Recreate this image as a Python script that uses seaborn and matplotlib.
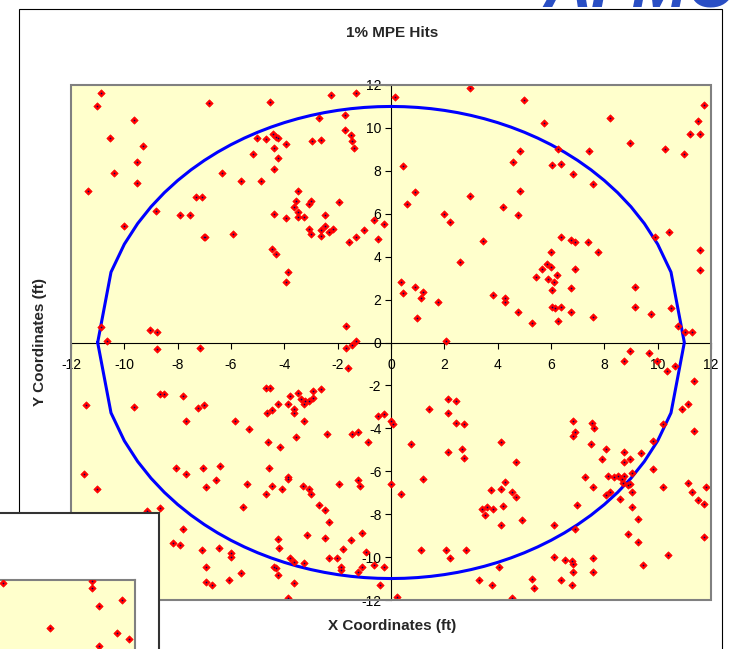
import numpy as np
import pandas as pd
import matplotlib
matplotlib.use('Agg')
import matplotlib.pyplot as plt
from matplotlib.patches import Rectangle
import seaborn as sns

# hit coordinates (ft), one pair of lists per quadrant
ul_x = [-10.89, -11.01, -9.65, -10.52, -9.29, -9.54, -10.39, -9.54, -11.37, -6.81, -4.55, -4.43, -4.33, -5.01, -4.70,
        -4.24, -4.40, -5.16, -4.24, -4.40, -6.33, -5.64, -4.86, -7.32, -7.10, -8.80, -7.91, -7.55, -4.40, -3.94,
        -10.02, -7.03, -6.97, -5.94, -4.47, -4.32,
        -2.24, -1.31, -2.70, -1.71, -1.74, -3.94, -2.97, -2.62, -1.50, -1.47, -1.40, -3.48, -3.55, -3.65, -3.48,
        -3.48, -3.25, -3.00, -3.09, -2.47, -1.94, -3.09, -3.00, -2.62, -2.62, -2.47, -2.31, -2.16, -1.56, -1.31,
        -1.01, -0.63, -0.48, -0.25,
        -10.89, -10.64, -9.05, -8.79, -3.85, -3.94, -1.70, -1.31]
ul_y = [11.62, 11.01, 10.39, 9.52, 9.14, 8.41, 7.91, 7.42, 7.04, 11.14, 11.23, 9.72, 9.60, 9.55, 9.47,
        9.55, 9.08, 8.77, 8.62, 8.08, 7.91, 7.54, 7.54, 6.76, 6.76, 6.12, 5.92, 5.92, 5.98, 5.78,
        5.42, 4.91, 4.91, 5.06, 4.36, 4.13,
        11.54, 11.62, 10.48, 10.62, 9.89, 9.24, 9.39, 9.45, 9.66, 9.39, 9.08, 7.07, 6.60, 6.31, 6.06,
        5.84, 5.84, 6.60, 6.45, 5.92, 6.53, 5.30, 5.06, 5.22, 4.98, 5.45, 5.14, 5.30, 4.67, 4.92,
        5.22, 5.69, 4.83, 5.53,
        0.72, 0.09, 0.59, 0.47, 3.29, 2.82, 0.75, 0.06]

ur_x = [0.14, 2.97, 0.45, 0.89, 0.60, 1.98, 2.22, 2.97, 3.44,
        4.99, 5.75, 8.20, 11.74, 11.50, 11.21, 11.59, 8.96, 10.27, 10.97, 4.83, 6.27, 7.44, 4.59, 6.04, 6.36,
        6.81, 7.59, 4.83, 4.21, 4.75, 9.90, 10.42, 6.36, 6.75, 6.90, 7.40, 5.99, 7.75, 11.59,
        0.37, 0.45, 0.90, 1.21, 1.14, 0.97, 1.75, 2.59, 3.82, 2.05,
        5.84, 5.99, 5.66, 6.90, 6.21, 5.44, 5.90, 6.13, 6.05, 6.75, 4.29, 4.29, 4.75, 6.05, 6.15, 6.36, 6.75,
        5.30, 6.27, 7.59, 9.14, 9.14, 9.74, 10.50, 10.75, 11.04, 11.29, 11.59]
ur_y = [11.46, 11.85, 8.24, 7.00, 6.45, 6.00, 5.61, 6.84, 4.75,
        11.31, 10.23, 10.47, 11.09, 10.31, 9.70, 9.70, 9.31, 9.00, 8.77, 8.93, 9.00, 8.93, 8.40, 8.29, 8.32,
        7.85, 7.38, 7.07, 6.31, 5.92, 4.92, 5.14, 4.92, 4.77, 4.67, 4.67, 4.21, 4.21, 4.30,
        2.82, 2.29, 2.59, 2.37, 2.06, 1.12, 1.90, 3.74, 2.23, 0.06,
        3.68, 3.52, 3.44, 3.44, 3.13, 3.07, 2.97, 2.82, 2.43, 2.52, 2.06, 1.90, 1.43, 1.67, 1.59, 1.67, 1.43,
        0.90, 0.98, 1.20, 2.59, 1.67, 1.34, 1.59, 0.75, 0.51, 0.51, 3.36]

ll_x = [-8.79, -7.16, -11.45, -9.65, -8.66, -8.52, -7.80, -7.24, -7.01, -7.68, -5.86, -5.34, -4.70, -4.55,
        -4.24, -4.47, -4.64,
        -1.70, -1.47, -1.62, -0.48, -0.25, -0.01, -3.78, -3.85, -3.63, -3.63, -3.48, -3.39, -3.22, -3.25,
        -3.09, -2.94, -2.94, -2.62, -3.25,
        -4.62, -4.17, -11.51, -11.01, -8.05, -7.68, -7.06, -6.40, -6.55, -6.94, -4.56, -5.40, -4.47, -4.10,
        -4.70, -5.55, -8.66, -9.16, -7.80, -8.16, -7.91, -7.09, -6.44, -6.01, -6.01, -6.94, -6.94, -6.70,
        -6.07, -5.64, -4.25, -4.21, -4.40, -4.30, -4.25,
        -3.56, -2.39, -1.47, -1.24, -0.86, -3.86, -3.86, -3.31, -3.09, -3.01, -1.94, -1.25, -1.16, -2.71,
        -2.47, -2.31, -3.16, -2.47, -1.10, -1.50, -1.79, -0.94, -3.79, -3.64, -3.25, -2.31, -2.01, -1.86,
        -1.86, -1.24, -1.10, -0.63, -0.25, -0.41, -3.64, -3.86, -0.01]
ll_y = [-0.28, -0.26, -2.90, -3.01, -2.40, -2.40, -2.51, -3.04, -2.90, -3.64, -3.66, -4.05, -2.10, -2.10,
        -2.88, -3.13, -3.29,
        -0.26, -0.11, -1.18, -3.43, -3.35, -3.64, -2.49, -2.88, -3.12, -3.27, -2.34, -2.65, -2.73, -2.88,
        -2.73, -2.57, -2.26, -2.18, -3.66,
        -4.66, -4.89, -6.12, -6.85, -5.87, -6.12, -5.87, -5.75, -6.43, -6.74, -5.83, -6.59, -6.67, -6.85,
        -7.06, -7.66, -7.71, -7.84, -8.71, -9.33, -9.45, -9.67, -9.58, -9.83, -9.99, -10.45, -11.18, -11.29,
        -11.06, -10.76, -9.14, -9.58, -10.44, -10.53, -10.83,
        -4.42, -4.27, -4.27, -4.19, -4.66, -6.26, -6.34, -6.67, -6.82, -7.06, -6.59, -6.43, -6.67, -7.59,
        -7.82, -8.36, -8.97, -9.13, -8.89, -9.21, -9.60, -9.75, -10.06, -10.22, -10.28, -10.06, -10.06, -10.45,
        -10.59, -10.69, -10.45, -10.37, -10.45, -11.29, -11.21, -11.92, -6.59]

lr_x = [1.44, 2.13, 2.44, 2.13, 2.44, 2.75, 0.06,
        8.97, 8.75, 9.66, 9.99, 10.36, 10.66, 11.36, 11.12, 10.90, 10.21, 11.36, 6.82, 7.53, 7.62,
        0.21, 0.37, 0.75, 1.21, 2.13, 2.67, 2.75, 3.74, 3.42, 3.61, 3.82, 3.51, 1.14, 2.05, 2.21, 2.82, 3.30, 3.80,
        6.90, 6.82, 4.12, 4.68, 7.51, 8.05, 8.75, 7.90, 8.75, 8.97, 9.37, 9.82, 9.82, 9.05, 7.27, 8.12, 8.37,
        8.52, 8.75, 8.65, 8.70, 8.89, 8.97, 7.59, 8.20, 8.05, 9.05, 8.59, 9.05, 9.27, 8.90, 9.27, 10.20, 11.12,
        11.27, 11.50, 11.75, 11.81, 11.74, 10.40, 9.44, 4.29, 4.12, 4.53, 4.68, 4.21, 4.12, 4.90, 6.12, 6.90,
        6.97, 6.12, 6.51, 6.78, 6.82, 6.82, 7.59, 7.59, 6.36, 6.78, 5.30, 5.37, 4.55, 4.05]
lr_y = [-3.12, -2.65, -2.73, -3.27, -3.74, -3.82, -3.82,
        -0.41, -0.87, -0.50, -0.87, -1.34, -1.11, -1.81, -2.88, -3.12, -3.82, -4.11, -3.66, -3.74, -3.97,
        -11.84, -7.04, -4.74, -6.36, -5.12, -4.97, -5.36, -6.88, -7.74, -7.66, -7.74, -8.05, -9.67, -9.67,
        -10.06, -9.67, -11.06, -11.32,
        -4.19, -4.35, -4.66, -5.59, -4.74, -4.97, -5.11, -5.44, -5.59, -5.44, -5.16, -4.60, -5.90, -6.06,
        -6.28, -6.21, -6.28, -6.21, -6.21, -6.37, -6.53, -6.65, -6.59, -6.74, -6.96, -7.13, -6.96, -7.27,
        -7.68, -8.21, -8.91, -9.30, -6.74, -6.53, -6.98, -7.35, -7.51, -6.74, -9.07, -9.88, -10.37, -6.51,
        -6.82, -6.98, -7.20, -7.60, -8.52, -8.29, -8.52, -8.68, -7.59, -9.99, -10.14, -10.19, -10.30, -10.69,
        -10.06, -10.69, -11.07, -11.31, -11.00, -11.46, -11.93, -10.45]

# corner of a second chart that overlaps the bottom left
inset_x = [7.05, 10.37, 10.37, 11.49, 10.65, 8.80, 11.33, 11.78, 10.65]
inset_y = [11.85, 11.94, 11.64, 11.08, 10.77, 9.77, 9.54, 9.24, 8.93]

ticks = list(range(-12, 13, 2))
radius = 11.0   # 1% MPE ring
step = 0.5      # spacing of the points used for the ring

hits = pd.DataFrame({'x': ul_x + ur_x + ll_x + lr_x, 'y': ul_y + ur_y + ll_y + lr_y})
inset = pd.DataFrame({'x': inset_x, 'y': inset_y})

half = np.arange(-radius, radius + step / 2, step)
upper = np.sqrt(np.clip(radius ** 2 - half ** 2, 0, None))
ring = pd.DataFrame({'x': np.concatenate([half, half[::-1]]),
                     'y': np.concatenate([upper, -upper[::-1]])})

sns.set_theme(style='white')
plt.rcParams['font.family'] = ['Liberation Sans', 'DejaVu Sans']

W, H = 737, 649
fig = plt.figure(figsize=(W / 100, H / 100), dpi=100)
fig.patch.set_facecolor('white')

yellow = '#FFFFCC'


def draw_hits(ax, df):
    sns.scatterplot(data=df, x='x', y='y', marker='D', s=14, color='#FF0000',
                    edgecolor='#FF0000', linewidth=0.5, ax=ax, zorder=4)
    sns.scatterplot(data=df, x='x', y='y', marker='o', s=1.4, color='#000066',
                    linewidth=0, ax=ax, zorder=5)


# main chart
ax = fig.add_axes([71 / W, 1 - 600 / H, 640 / W, 515 / H])
ax.set_facecolor(yellow)
sns.lineplot(data=ring, x='x', y='y', sort=False, estimator=None,
             color='#0000FF', linewidth=2.2, ax=ax, zorder=3)
draw_hits(ax, hits)
ax.set_xlim(-12, 12)
ax.set_ylim(-12, 12)
ax.set_xticks(ticks)
ax.set_yticks(ticks)
ax.set_xticklabels([str(t) for t in ticks])
ax.set_yticklabels([str(t) for t in ticks])

for side in ('left', 'bottom'):
    ax.spines[side].set_position(('data', 0))
    ax.spines[side].set_color('black')
    ax.spines[side].set_linewidth(0.8)
    ax.spines[side].set_zorder(2)
for side in ('top', 'right'):
    ax.spines[side].set_visible(False)
ax.add_patch(Rectangle((0, 0), 1, 1, transform=ax.transAxes, fill=False,
                       edgecolor='#808080', linewidth=1.5, clip_on=False, zorder=6))

ax.tick_params(axis='both', direction='out', length=4, width=0.8, labelsize=10,
               colors='black', bottom=True, left=True)
ax.tick_params(axis='x', pad=7)
ax.tick_params(axis='y', pad=3)

ax.set_xlabel('X Coordinates (ft)', fontsize=11, fontweight='bold')
ax.set_ylabel('Y Coordinates (ft)', fontsize=11, fontweight='bold')
ax.xaxis.set_label_coords((392 - 71) / 640, (600 - 619) / 515)
ax.yaxis.set_label_coords((47 - 71) / 640, 0.5)

fig.text(392 / W, 1 - 33 / H, '1% MPE Hits', ha='center', va='center',
         fontsize=11, fontweight='bold')

# chart area border
fig.add_artist(Rectangle((19 / W, -0.05), (722 - 19) / W, 1.05 - 9 / H,
                         transform=fig.transFigure, fill=False,
                         edgecolor='black', linewidth=0.8, zorder=1))

# logo cut off at the top edge, only its foot shows
fig.text(640 / W, 1 - 8 / H, 'AFMC', ha='center', va='baseline', fontsize=48,
         fontweight='bold', fontstyle='italic', color='#2a4fc4', zorder=2)

# overlapping second chart (only its corner is visible)
fig.add_artist(Rectangle((-0.01, -0.05), 159 / W + 0.01, (H - 513) / H + 0.05,
                         transform=fig.transFigure, facecolor='white',
                         edgecolor='#333333', linewidth=1.5, zorder=5))
ax2 = fig.add_axes([0, 0, 135.3 / W, 69 / H])
ax2.set_zorder(6)
ax2.set_facecolor(yellow)
draw_hits(ax2, inset)
ax2.set_xlim(12 - 135.3 / 26.67, 12)
ax2.set_ylim(12 - 69 / 21.4, 12)
ax2.set_xticks([])
ax2.set_yticks([])
ax2.set_xlabel('')
ax2.set_ylabel('')
for side in ('left', 'bottom'):
    ax2.spines[side].set_visible(False)
for side in ('top', 'right'):
    ax2.spines[side].set_color('#808080')
    ax2.spines[side].set_linewidth(1.5)

fig.savefig('out.png', dpi=100)
